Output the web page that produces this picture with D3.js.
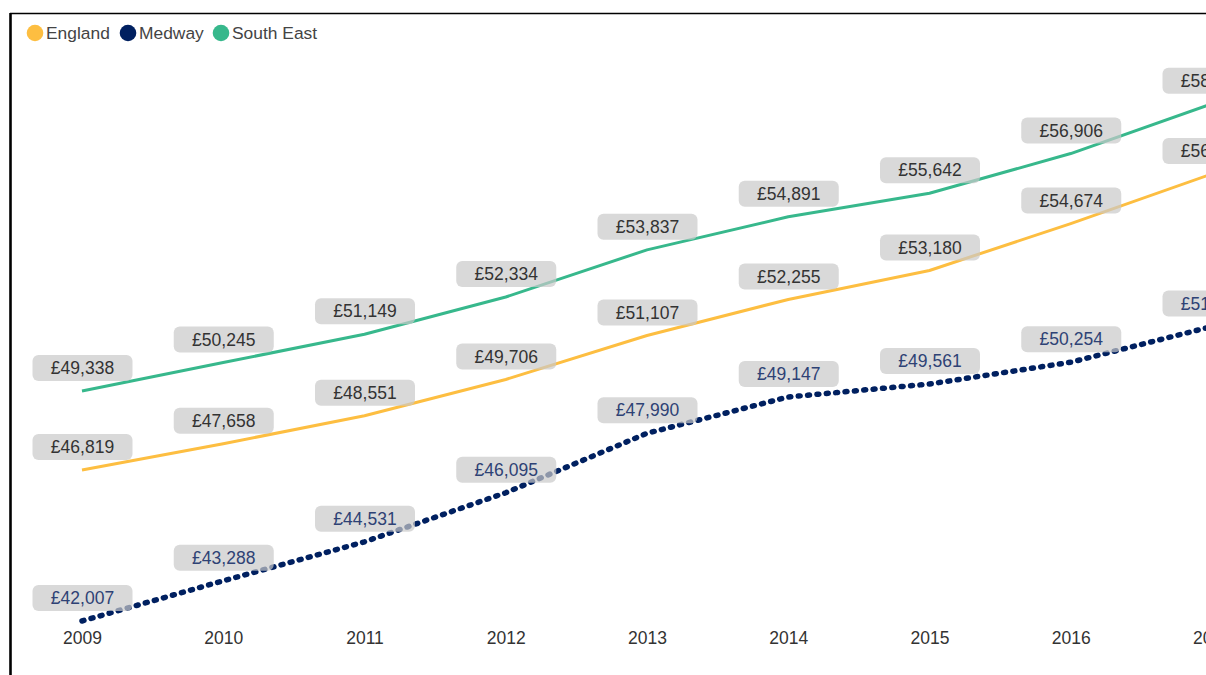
<!DOCTYPE html>
<html>
<head>
<meta charset="utf-8">
<script src="https://cdn.jsdelivr.net/npm/d3@7"></script>
<style>
  html, body { margin: 0; padding: 0; background: #fff; }
  svg { display: block; font-family: "Liberation Sans", Arial, sans-serif; }
</style>
</head>
<body>
<svg id="chart" width="1206" height="675"></svg>
<script>
const years = [2009, 2010, 2011, 2012, 2013, 2014, 2015, 2016, 2017];
const england = [46819, 47658, 48551, 49706, 51107, 52255, 53180, 54674, 56258];
const medway = [42007, 43288, 44531, 46095, 47990, 49147, 49561, 50254, 51393];
const southEast = [49338, 50245, 51149, 52334, 53837, 54891, 55642, 56906, 58492];
const seriesNames = ["England", "Medway", "South East"];
const seriesColors = ["#FDBE41", "#002060", "#37B88C"];

const svg = d3.select("#chart");

// frame
svg.append("line").attr("x1", 10).attr("x2", 1206).attr("y1", 13.5).attr("y2", 13.5)
  .attr("stroke", "#000").attr("stroke-width", 1.6);
svg.append("line").attr("x1", 10.5).attr("x2", 10.5).attr("y1", 13).attr("y2", 675)
  .attr("stroke", "#000").attr("stroke-width", 2.6);

const x = d3.scaleLinear().domain([2009, 2017]).range([82, 1212]);
const y = d3.scaleLinear().domain([42000, 60000]).range([621.2, 56.5]);

// x axis labels
const xAxis = d3.axisBottom(x).tickValues(years).tickFormat(d3.format("d")).tickSize(0).tickPadding(0);
const gx = svg.append("g").attr("transform", "translate(0,632)").call(xAxis);
gx.select(".domain").remove();
gx.selectAll("text").attr("font-size", "17.5px").attr("fill", "#333")
  .attr("font-family", "'Liberation Sans', Arial, sans-serif");

const series = [
  { name: "England", values: england, color: seriesColors[0], dotted: false, textColor: "#333" },
  { name: "South East", values: southEast, color: seriesColors[2], dotted: false, textColor: "#333" },
  { name: "Medway", values: medway, color: seriesColors[1], dotted: true, textColor: "#2E4275" }
];

const line = d3.line().x((d, i) => x(years[i])).y(d => y(d));

series.forEach(s => {
  const p = svg.append("path").datum(s.values).attr("d", line)
    .attr("fill", "none").attr("stroke", s.color);
  if (s.dotted) {
    p.attr("stroke-width", 5.5).attr("stroke-linecap", "round").attr("stroke-dasharray", "2 7.4");
  } else {
    p.attr("stroke-width", 3).attr("stroke-linejoin", "round");
  }
});

const fmt = v => "£" + d3.format(",")(v);
series.forEach(s => {
  const g = svg.append("g");
  s.values.forEach((v, i) => {
    const cx = x(years[i]) + 0.5, cy = y(v) - 23;
    g.append("rect").attr("x", cx - 50).attr("y", cy - 13).attr("width", 100).attr("height", 26)
      .attr("rx", 6).attr("fill", "#c9c9c9").attr("fill-opacity", 0.7);
    g.append("text").attr("x", cx).attr("y", cy).attr("dy", "0.35em").attr("text-anchor", "middle")
      .attr("font-size", "17.5px").attr("fill", s.textColor).text(fmt(v));
  });
});

// legend
const legendX = [35, 128, 221];
seriesNames.forEach((n, i) => {
  svg.append("circle").attr("cx", legendX[i]).attr("cy", 33).attr("r", 8.3).attr("fill", seriesColors[i]);
  svg.append("text").attr("x", legendX[i] + 11).attr("y", 33).attr("dy", "0.35em")
    .attr("font-size", "17.4px").attr("fill", "#444").text(n);
});
</script>
</body>
</html>
